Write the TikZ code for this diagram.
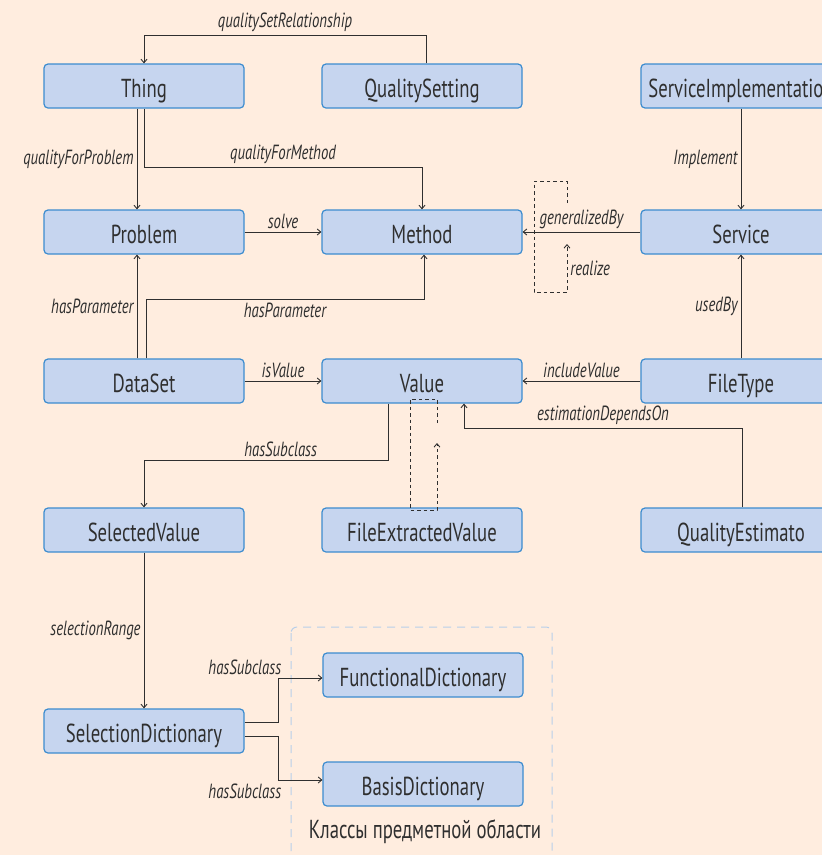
\documentclass[tikz,border=0pt]{standalone}
\usepackage{fontspec}
\setmainfont{PT Sans}[FakeStretch=0.72]
\usetikzlibrary{arrows.meta}

\definecolor{bgpeach}{HTML}{FFEDDF}
\definecolor{clsfill}{HTML}{C6D5EF}
\definecolor{clsline}{HTML}{3C8CCF}
\definecolor{ink}{HTML}{2F2F2F}
\definecolor{grpline}{HTML}{B8CFEA}

\begin{document}
\begin{tikzpicture}[x=1pt, y=-1pt,
  cls/.style={draw=clsline, fill=clsfill, line width=1.2pt, rounded corners=4pt,
    minimum width=200pt, minimum height=44pt, inner sep=0pt, text=ink,
    text height=22pt, text depth=0pt,
    font=\fontsize{26}{28}\selectfont},
  rel/.style={draw=ink, line width=0.9pt, -{Straight Barb[length=3.5pt,width=6pt]}},
  dashrel/.style={rel, dash pattern=on 3.5pt off 3pt},
  lab/.style={text=ink, font=\fontsize{20.5}{22}\selectfont\itshape, inner sep=3pt}]
\useasboundingbox (0,0) rectangle (822,855);
\clip (0,0) rectangle (822,855);
\fill[bgpeach] (0,0) rectangle (822,855);

% ---- domain group --------------------------------------------------------
\draw[grpline, line width=1pt, dash pattern=on 8pt off 6pt, rounded corners=6pt]
  (291,627) rectangle (552,880);
\node[text=ink, font=\fontsize{26}{28}\selectfont] (grplab) at (425,832)
  {Классы предметной области};

% ---- classes -------------------------------------------------------------
\node[cls] (thing)   at (144,86)  {Thing};
\node[cls] (qset)    at (422,86)  {QualitySetting};
\node[cls] (simpl)   at (741,86)  {ServiceImplementation};
\node[cls] (problem) at (144,232) {Problem};
\node[cls] (method)  at (422,232) {Method};
\node[cls] (service) at (741,232) {Service};
\node[cls] (dataset) at (144,381) {DataSet};
\node[cls] (value)   at (422,381) {Value};
\node[cls] (ftype)   at (741,381) {FileType};
\node[cls] (selval)  at (144,530) {SelectedValue};
\node[cls] (fexval)  at (422,530) {FileExtractedValue};
\node[cls] (qest)    at (741,530) {QualityEstimato};
\node[cls] (seldict) at (144,731) {SelectionDictionary};
\node[cls] (fundict) at (423,675) {FunctionalDictionary};
\node[cls] (basdict) at (423,784) {BasisDictionary};

% ---- relations, top rows -------------------------------------------------
\draw[rel] ([xshift=4]qset.north) -- ++(0,-28)
  -| node[lab, pos=0.25, above] {qualitySetRelationship} (thing.north);
\draw[rel] ([xshift=-7]thing.south) -- node[lab, left] {qualityForProblem}
  ([xshift=-7]problem.north);
\draw[rel] (thing.south) -- ++(0,59)
  -| node[lab, pos=0.25, above] {qualityForMethod} (method.north);
\draw[rel] (problem) -- node[lab, above] {solve} (method);
\draw[rel] (simpl) -- node[lab, left] {Implement} (service);
\draw[rel] (service) -- node[lab, above] {generalizedBy} (method);

% realize (dashed)
\coordinate (rzA) at (567,203);
\coordinate (rzB) at (567,244);
\draw[dashrel] (rzA) -- ++(0,-22) -| ++(-33,111)
  -| node[lab, pos=0.75, right] {realize} (rzB);

% ---- relations, middle rows ----------------------------------------------
\draw[rel] ([xshift=-7]dataset.north) -- node[lab, left] {hasParameter}
  ([xshift=-7]problem.south);
\draw[rel] ([xshift=2]dataset.north) -- ++(0,-59)
  -| node[lab, pos=0.25, below] {hasParameter} ([xshift=2]method.south);
\draw[rel] (dataset) -- node[lab, above] {isValue} (value);
\draw[rel] (ftype) -- node[lab, above] {includeValue} (value);
\draw[rel] (ftype) -- node[lab, left] {usedBy} (service);

\draw[rel] ([xshift=-34]value.south) -- ++(0,57)
  -| node[lab, pos=0.22, above] {hasSubclass} (selval.north);
\draw[rel] ([xshift=1]qest.north) -- ++(0,-79)
  -| node[lab, pos=0.25, above] {estimationDependsOn} ([xshift=42]value.south);

% extracted value (dashed)
\coordinate (feA) at (437,423);
\coordinate (feB) at (437,443);
\draw[dashrel] (feA) -- ++(0,-24) -| ++(-27,111) -| (feB);

% ---- dictionaries --------------------------------------------------------
\draw[rel] (selval) -- node[lab, left] {selectionRange} (seldict);
\draw[rel] ([yshift=9]seldict.east) -- ++(34,0)
  |- node[lab, pos=0.5, above left, xshift=6pt] {hasSubclass} ([yshift=-3]fundict.west);
\draw[rel] ([yshift=-5]seldict.east) -- ++(34,0)
  |- node[lab, pos=0.5, below left, xshift=6pt] {hasSubclass} ([yshift=4]basdict.west);
\end{tikzpicture}
\end{document}
